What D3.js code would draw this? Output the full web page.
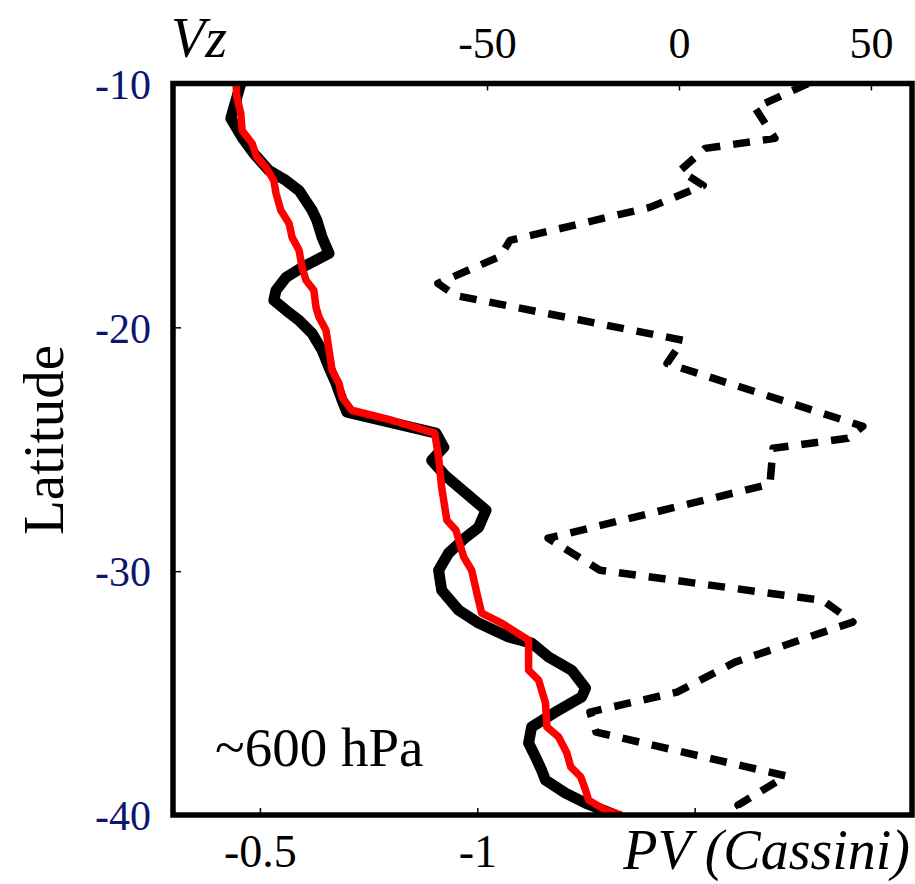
<!DOCTYPE html>
<html>
<head>
<meta charset="utf-8">
<script src="https://cdn.jsdelivr.net/npm/d3@7"></script>
<style>
  html, body { margin: 0; padding: 0; background: #fff; }
  svg { display: block; }
</style>
</head>
<body>
<svg id="chart" width="915" height="884"></svg>
<script>
// ---- data ----
const latTicks = [-10, -20, -30, -40];
const pvTicks = [-0.5, -1, -1.5];
const vzTicks = [-50, 0, 50];

// PV (black, thick)
const blackLat = [-10.0, -11.43, -12.21, -12.87, -13.57, -13.98, -14.39, -15.2, -15.61, -16.31, -16.97,
  -17.54, -17.95, -18.48, -18.89, -19.3, -19.71, -20.25, -20.94, -21.64, -22.3, -22.99, -23.48,
  -24.34, -24.92, -25.45, -26.11, -27.5, -28.2, -28.6, -29.26, -29.96, -30.78, -31.6, -32.13,
  -32.7, -32.95, -33.52, -34.06, -34.8, -35.16, -35.7, -36.39, -37.05, -37.62, -38.16, -38.57,
  -39.1, -39.51, -40.0];
const blackPV = [-0.456, -0.433, -0.459, -0.486, -0.521, -0.56, -0.59, -0.62, -0.631, -0.643, -0.659,
  -0.597, -0.56, -0.537, -0.532, -0.56, -0.59, -0.62, -0.643, -0.659, -0.675, -0.689, -0.7,
  -0.905, -0.923, -0.895, -0.928, -1.02, -1.003, -0.974, -0.934, -0.911, -0.918, -0.957, -1.003,
  -1.072, -1.125, -1.164, -1.217, -1.249, -1.24, -1.187, -1.125, -1.118, -1.134, -1.148, -1.157,
  -1.203, -1.249, -1.318];

// PV (red)
const redLat = [-10.0, -10.57, -11.23, -11.93, -12.46, -13.03, -13.44, -13.98, -14.51, -15.2, -15.74,
  -16.31, -16.84, -17.54, -18.07, -18.48, -19.18, -19.59, -20.12, -20.94, -21.76, -22.3, -22.87,
  -23.4, -23.81, -24.34, -25.33, -26.56, -27.91, -28.32, -29.14, -29.43, -29.96, -30.9, -31.72,
  -32.13, -32.83, -34.06, -34.47, -35.41, -36.39, -36.8, -37.46, -38.03, -38.44, -38.98, -39.39,
  -39.8, -40.0];
const redPV = [-0.445, -0.447, -0.456, -0.459, -0.482, -0.493, -0.514, -0.532, -0.537, -0.548, -0.567,
  -0.574, -0.59, -0.597, -0.606, -0.624, -0.629, -0.636, -0.652, -0.659, -0.666, -0.682, -0.689,
  -0.711, -0.803, -0.902, -0.911, -0.918, -0.93, -0.951, -0.964, -0.969, -0.987, -0.999, -1.01,
  -1.056, -1.118, -1.118, -1.141, -1.157, -1.16, -1.187, -1.206, -1.215, -1.238, -1.249, -1.256,
  -1.295, -1.332];

// Vz (dashed)
const vzLat = [-10.0, -11.0, -12.25, -12.66, -13.57, -14.18, -15.08, -16.43, -17.09, -18.2, -18.69,
  -20.53, -21.48, -24.06, -24.55, -24.96, -26.43, -28.65, -29.96, -31.2, -32.09, -33.73, -34.96,
  -35.78, -36.6, -38.4, -39.59, -40.0];
const vzVal = [33.6, 19.8, 25.0, 6.8, 0.3, 6.3, -7.6, -44.0, -46.6, -62.8, -58.3,
  1.0, -3.1, 47.9, 44.0, 24.5, 23.7, -34.1, -20.6, 37.5, 45.3, 14.6, -0.5,
  -23.2, -21.6, 27.9, 15.4, 17.2];

// ---- layout ----
const L = 173, R = 912, T = 83.5, B = 815;
const serif = "'Liberation Serif', 'Times New Roman', serif";

const svg = d3.select("#chart");

const y = d3.scaleLinear().domain([-10, -40]).range([T, B]);
const xPV = d3.scaleLinear().domain([-0.3, -2.0]).range([L, R]);
const xVz = d3.scaleLinear().domain([-131.8, 60.7]).range([L, R]);

svg.append("defs").append("clipPath").attr("id", "clip")
  .append("rect").attr("x", L).attr("y", T).attr("width", R - L).attr("height", B - T);

const plot = svg.append("g").attr("clip-path", "url(#clip)");

const blackData = blackLat.map((d, i) => [blackPV[i], d]);
const redData = redLat.map((d, i) => [redPV[i], d]);
const vzData = vzLat.map((d, i) => [vzVal[i], d]);

const linePV = d3.line().x(d => xPV(d[0])).y(d => y(d[1]));
const lineVz = d3.line().x(d => xVz(d[0])).y(d => y(d[1]));

plot.append("path").datum(vzData).attr("d", lineVz)
  .attr("fill", "none").attr("stroke", "#000").attr("stroke-width", 7.5)
  .attr("stroke-dasharray", "17,13").attr("stroke-linejoin", "round");

plot.append("path").datum(blackData).attr("d", linePV)
  .attr("fill", "none").attr("stroke", "#000").attr("stroke-width", 11)
  .attr("stroke-linejoin", "round");

plot.append("path").datum(redData).attr("d", linePV)
  .attr("fill", "none").attr("stroke", "#ff0000").attr("stroke-width", 7.5)
  .attr("stroke-linejoin", "round");

// ---- axes ----
const axTop = svg.append("g").attr("transform", `translate(0,${T})`)
  .call(d3.axisTop(xVz).tickValues(vzTicks).tickSize(-7).tickPadding(26).tickFormat(d => String(d)));
const axBottom = svg.append("g").attr("transform", `translate(0,${B})`)
  .call(d3.axisBottom(xPV).tickValues(pvTicks).tickSize(-7).tickPadding(19)
    .tickFormat(d => d === -1.5 ? "" : String(d)));
const axLeft = svg.append("g").attr("transform", `translate(${L},0)`)
  .call(d3.axisLeft(y).tickValues(latTicks).tickSize(-8).tickPadding(22).tickFormat(d => String(d)));

[axTop, axBottom, axLeft].forEach(g => {
  g.select(".domain").remove();
  g.selectAll(".tick line").attr("stroke", "#000").attr("stroke-width", 1.5);
  g.selectAll(".tick text").attr("font-family", serif).attr("font-size", 44).attr("fill", "#000");
});
axLeft.selectAll(".tick text").attr("fill", "#0c1670").attr("font-size", 42).attr("dy", "0.35em");
axTop.selectAll(".tick text").attr("dy", "0");
axBottom.selectAll(".tick text").attr("font-size", 46).attr("dy", "0.71em");

// frame
svg.append("rect").attr("x", L).attr("y", T).attr("width", R - L).attr("height", B - T)
  .attr("fill", "none").attr("stroke", "#000").attr("stroke-width", 5.5);

// ---- labels ----
svg.append("text").attr("x", 171).attr("y", 57).attr("font-family", serif)
  .attr("font-style", "italic").attr("font-size", 56).text("Vz");

svg.append("text").attr("x", 910).attr("y", 869).attr("text-anchor", "end")
  .attr("font-family", serif).attr("font-style", "italic").attr("font-size", 56).text("PV (Cassini)");

svg.append("text").attr("transform", "translate(63,440) rotate(-90)").attr("text-anchor", "middle")
  .attr("font-family", serif).attr("font-size", 57).text("Latitude");

svg.append("text").attr("x", 215).attr("y", 766).attr("font-family", serif)
  .attr("font-size", 55).text("~600 hPa");
</script>
</body>
</html>
